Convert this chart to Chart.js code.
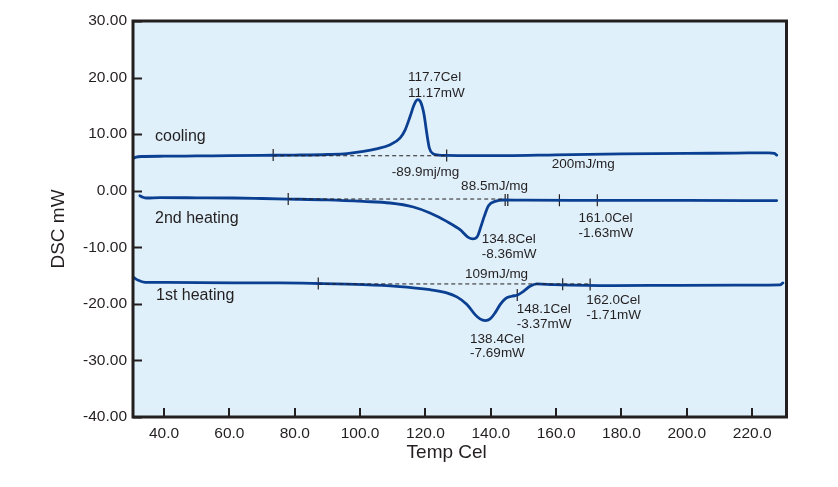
<!DOCTYPE html>
<html>
<head>
<meta charset="utf-8">
<script src="https://cdn.jsdelivr.net/npm/chart.js@4.4.1/dist/chart.umd.min.js"></script>
<style>
html,body{margin:0;padding:0;background:#ffffff;}
#wrap{width:838px;height:487px;position:relative;}
</style>
</head>
<body>
<div id="wrap"><canvas id="c" width="838" height="487"></canvas></div>
<script>
// ---- data ----
const xTickVals = [40, 60, 80, 100, 120, 140, 160, 180, 200, 220];
const yTickVals = [-40, -30, -20, -10, 0, 10, 20, 30];

const coolingT = [30.5, 31.5, 33, 40, 50, 60, 70, 80, 90, 96, 101, 105, 109.2, 112.2, 113.8, 115.3, 116.4, 117.1, 117.7, 118.4, 119.0, 119.6, 120.4, 121.2, 122.4, 124, 126.5, 135, 145, 160, 180, 200, 215, 225, 226.8, 227.5];
const coolingV = [5.7, 5.95, 6.05, 6.1, 6.15, 6.2, 6.25, 6.3, 6.4, 6.55, 6.94, 7.4, 8.12, 9.3, 10.77, 13.12, 15.0, 15.85, 16.1, 15.8, 14.9, 13.4, 10.19, 7.54, 6.53, 6.3, 6.23, 6.2, 6.2, 6.35, 6.5, 6.6, 6.65, 6.7, 6.6, 6.3];

const heat2T = [32.6, 33.5, 34.7, 38.8, 50, 61.2, 70, 78, 90, 101, 109.2, 116.3, 121.4, 126.5, 130.6, 133.1, 134.5, 135.9, 137.0, 138.0, 139.3, 141.3, 143.9, 150, 170, 200, 227.5];
const heat2V = [-0.88, -1.15, -1.29, -1.22, -1.25, -1.29, -1.38, -1.47, -1.62, -1.89, -2.17, -2.88, -3.94, -5.42, -6.89, -8.25, -8.53, -8.07, -6.30, -4.54, -2.65, -1.89, -1.64, -1.68, -1.7, -1.72, -1.75];

const heat1T = [30.6, 32.1, 34.2, 40.8, 61.2, 75.5, 87.2, 101, 111.2, 121.4, 126.5, 129.6, 132.7, 135.2, 136.7, 138.3, 139.8, 141.3, 142.9, 144.4, 146.4, 148.2, 150.0, 152.0, 154.1, 159.2, 177.5, 198, 220, 228.5, 229.4];
const heat1V = [-15.3, -15.84, -16.19, -16.19, -16.3, -16.3, -16.4, -16.6, -16.9, -17.5, -18.07, -18.77, -20.1, -21.9, -22.66, -22.96, -22.66, -21.6, -20.1, -19.1, -18.66, -18.42, -17.78, -16.9, -16.48, -16.6, -16.78, -16.72, -16.7, -16.65, -16.3];

// analysis tick markers
const markT = [73.4, 126.5, 78.0, 144.4, 145.2, 161.0, 172.6, 87.2, 148.1, 162.0, 170.4];
const markV = [6.3, 6.23, -1.47, -1.62, -1.63, -1.7, -1.7, -16.4, -18.42, -16.55, -16.6];

// dashed integration baselines
const baseCoolT = [73.4, 126.5], baseCoolV = [6.18, 6.18];
const base2T = [78.0, 144.4], base2V = [-1.47, -1.47];
const base1T = [87.2, 170.4], base1V = [-16.48, -16.48];

// annotation texts and their anchor (temp, mW)
const noteText = ["117.7Cel","11.17mW","cooling","-89.9mj/mg","200mJ/mg","88.5mJ/mg","2nd heating","134.8Cel","-8.36mW","161.0Cel","-1.63mW","1st heating","109mJ/mg","148.1Cel","-3.37mW","162.0Cel","-1.71mW","138.4Cel","-7.69mW"];
const noteT = [114.69,114.69,37.24,109.70,158.68,130.92,37.24,137.25,137.25,166.83,166.83,37.55,132.14,147.97,147.97,169.18,169.18,133.67,133.67];
const noteV = [20.0,17.2,9.54,3.23,4.71,0.76,-4.94,-8.65,-11.30,-4.82,-7.47,-18.54,-14.71,-21.01,-23.66,-19.42,-22.07,-26.19,-28.78];
const noteBig = [false,false,true,false,false,false,true,false,false,false,false,true,false,false,false,false,false,false,false];

const xTitle = "Temp Cel";
const yTitle = "DSC mW";

// ---- helpers ----
const pts = (xs, ys) => xs.map((x, i) => ({x: x, y: ys[i]}));
const FONT = "'Liberation Sans', Arial, Helvetica, sans-serif";
const INK = '#231f20';
const CURVE = '#0b3f92';

const curve = (xs, ys) => ({
  data: pts(xs, ys), borderColor: CURVE, borderWidth: 2.8, pointRadius: 0,
  cubicInterpolationMode: 'monotone', fill: false, borderCapStyle: 'round'
});
const dashed = (xs, ys) => ({
  data: pts(xs, ys), borderColor: INK, borderWidth: 1, borderDash: [4, 3],
  pointRadius: 0, fill: false, tension: 0
});

const framePlugin = {
  id: 'frame',
  beforeDraw(chart) {
    const {ctx, chartArea: a} = chart;
    ctx.save();
    ctx.fillStyle = '#dff0fa';
    ctx.fillRect(a.left, a.top, a.right - a.left, a.bottom - a.top);
    ctx.restore();
  },
  afterDraw(chart) {
    const {ctx, chartArea: a, scales} = chart;
    ctx.save();
    ctx.strokeStyle = INK;
    ctx.lineWidth = 3;
    ctx.strokeRect(a.left, a.top, a.right - a.left, a.bottom - a.top);
    ctx.lineWidth = 2;
    ctx.beginPath();
    scales.y.ticks.forEach(t => {
      const y = Math.round(scales.y.getPixelForValue(t.value)) + 0.5;
      ctx.moveTo(a.left, y); ctx.lineTo(a.left + 9, y);
    });
    scales.x.ticks.forEach(t => {
      const x = Math.round(scales.x.getPixelForValue(t.value));
      ctx.moveTo(x, a.bottom); ctx.lineTo(x, a.bottom - 9);
    });
    ctx.stroke();
    // annotations
    ctx.fillStyle = INK;
    ctx.textAlign = 'left';
    ctx.textBaseline = 'middle';
    noteText.forEach((s, i) => {
      ctx.font = (noteBig[i] ? '16px ' : '13.5px ') + FONT;
      ctx.fillText(s, scales.x.getPixelForValue(noteT[i]), scales.y.getPixelForValue(noteV[i]));
    });
    // axis titles
    ctx.font = '19px ' + FONT;
    ctx.textAlign = 'center';
    ctx.fillText(xTitle, 446.7, 453);
    ctx.translate(59, 229);
    ctx.rotate(-Math.PI / 2);
    ctx.fillText(yTitle, 0, 0);
    ctx.restore();
  }
};

new Chart(document.getElementById('c'), {
  type: 'line',
  data: {
    datasets: [
      dashed(baseCoolT, baseCoolV),
      dashed(base2T, base2V),
      dashed(base1T, base1V),
      curve(coolingT, coolingV),
      curve(heat2T, heat2V),
      curve(heat1T, heat1V),
      {
        data: pts(markT, markV), showLine: false, pointStyle: 'line', rotation: 90,
        pointRadius: 6, pointBorderColor: INK, pointBorderWidth: 1.2, borderColor: INK
      }
    ]
  },
  options: {
    responsive: false,
    animation: false,
    events: [],
    layout: {padding: {left: 0, right: 51.5, top: 21, bottom: 0}},
    plugins: {legend: {display: false}, tooltip: {enabled: false}},
    scales: {
      x: {
        type: 'linear', min: 30.5, max: 230.5,
        afterFit(s) { s.height = 70; },
        afterBuildTicks(s) { s.ticks = xTickVals.map(v => ({value: v})); },
        grid: {display: false, drawTicks: false},
        border: {display: false},
        ticks: {
          padding: 7, color: INK, maxRotation: 0, autoSkip: false,
          font: {family: FONT, size: 15.5},
          callback: v => Number(v).toFixed(1)
        }
      },
      y: {
        type: 'linear', min: -40, max: 30,
        afterFit(s) { s.width = 133; },
        afterBuildTicks(s) { s.ticks = yTickVals.map(v => ({value: v})); },
        grid: {display: false, drawTicks: false},
        border: {display: false},
        ticks: {
          padding: 6, color: INK, autoSkip: false,
          font: {family: FONT, size: 15.5},
          callback: v => Number(v).toFixed(2)
        }
      }
    }
  },
  plugins: [framePlugin]
});
</script>
</body>
</html>
